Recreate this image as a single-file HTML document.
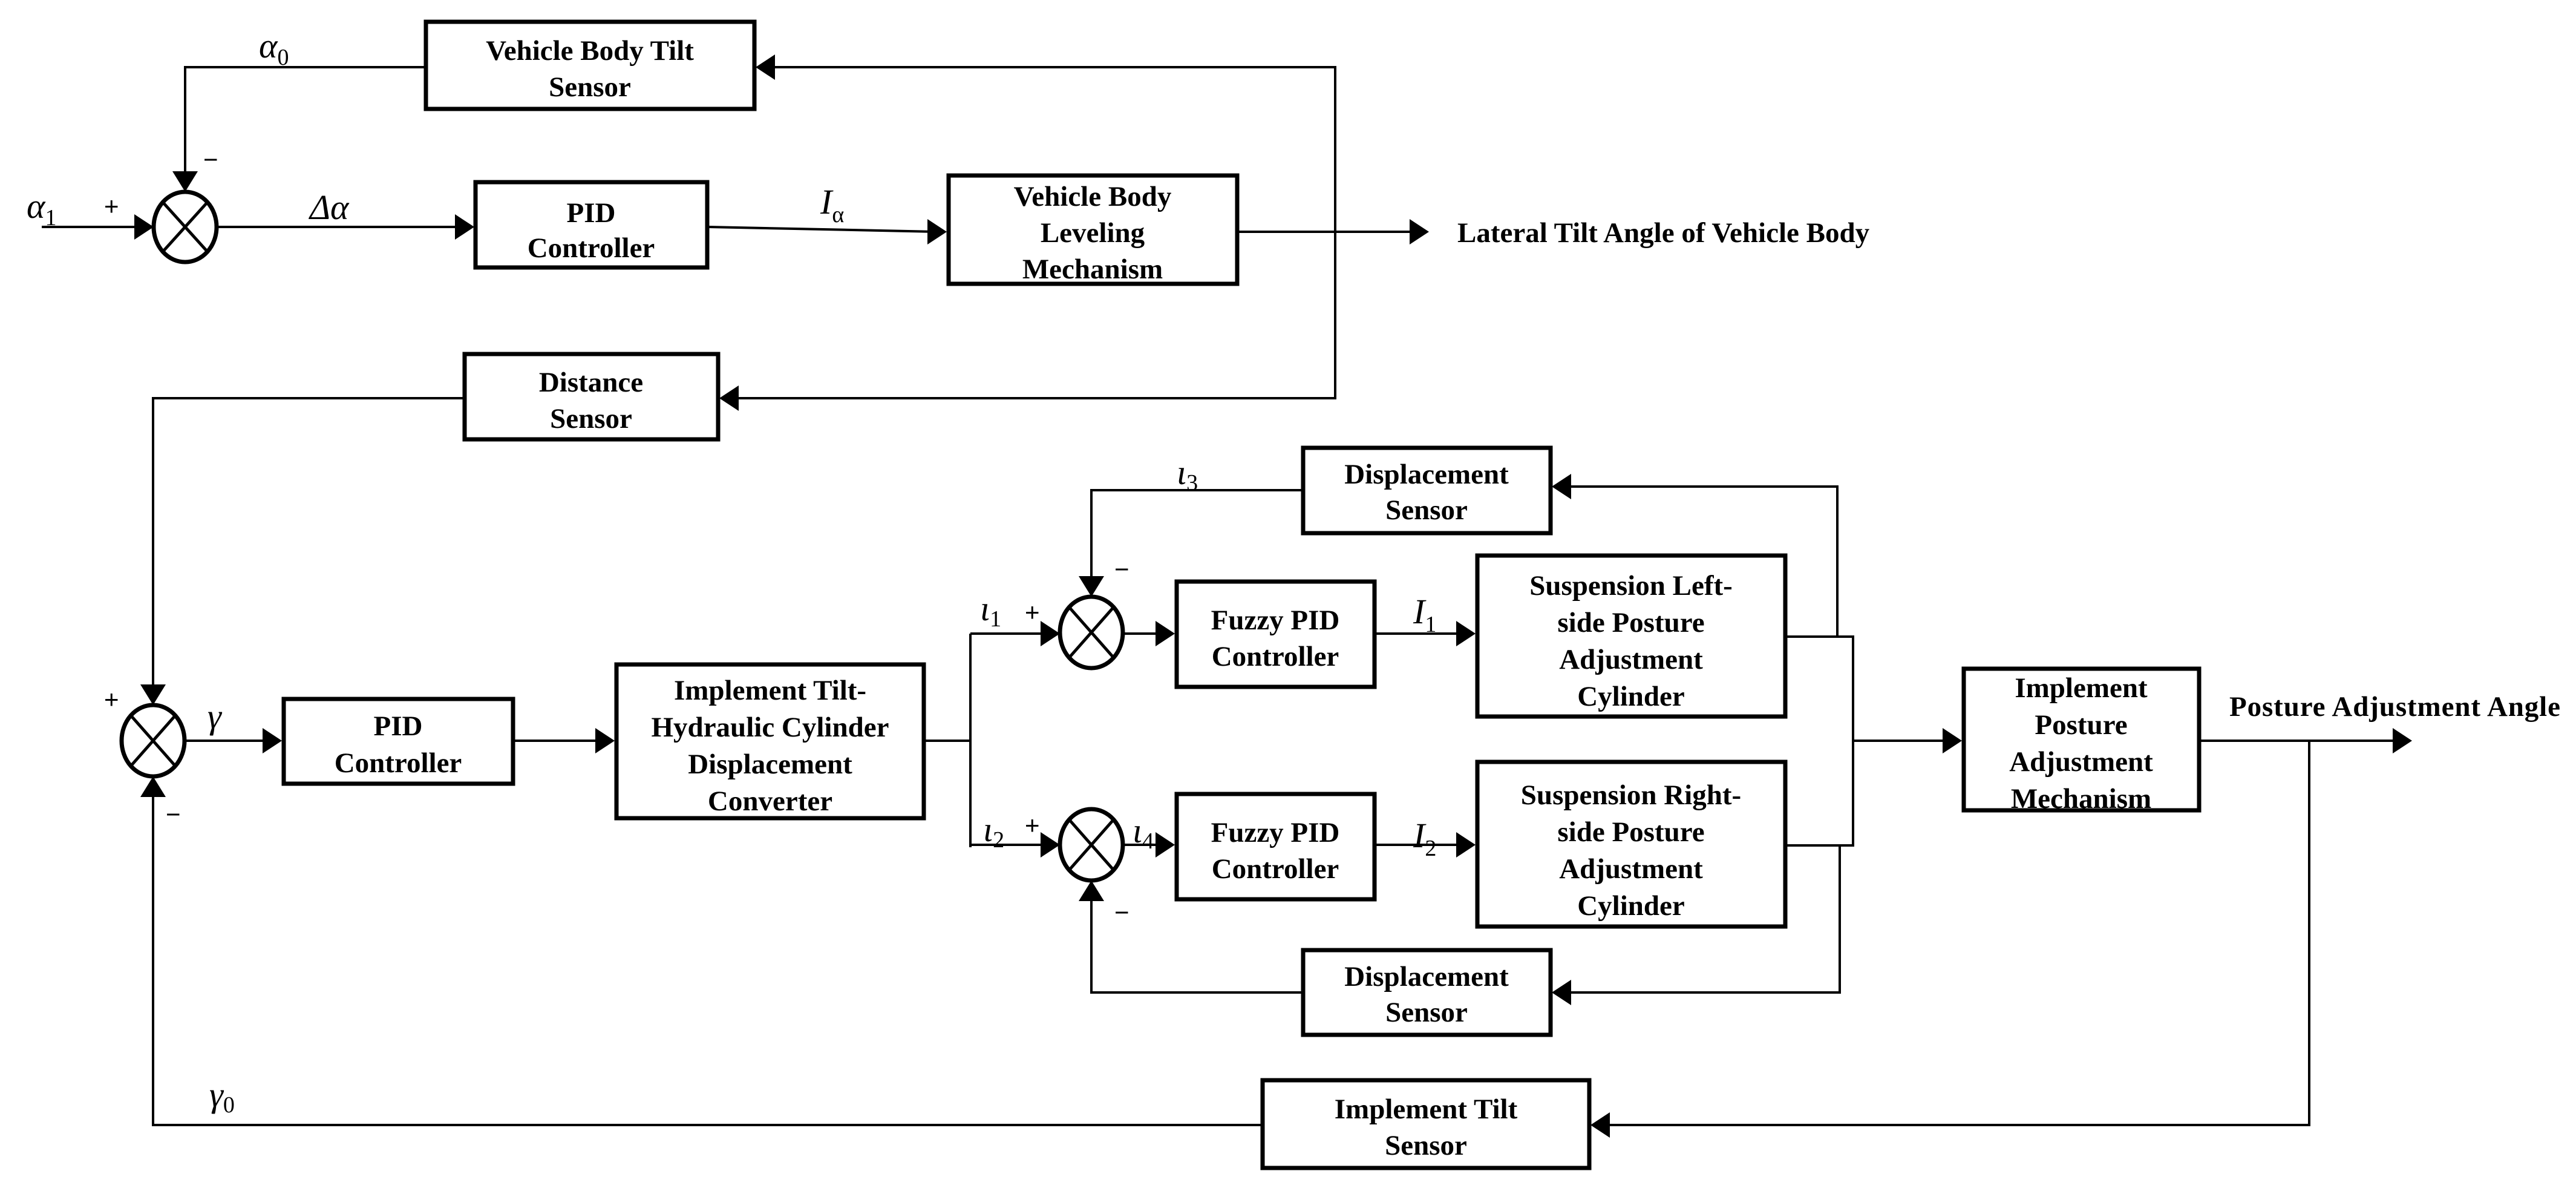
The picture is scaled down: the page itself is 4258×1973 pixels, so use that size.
<!DOCTYPE html>
<html><head><meta charset="utf-8"><style>
html,body{margin:0;padding:0;background:#fff;}
svg{display:block;}
.t{font-family:"Liberation Serif",serif;font-weight:bold;font-size:47px;text-anchor:middle;fill:#000;}
.m{font-family:"Liberation Serif",serif;font-style:italic;font-size:58px;fill:#000;}
.s{font-family:"Liberation Serif",serif;font-style:normal;font-size:38px;fill:#000;}
.p{font-family:"Liberation Sans",sans-serif;font-size:42px;fill:#000;}
</style></head><body>
<svg width="4258" height="1973" viewBox="0 0 4258 1973" xmlns="http://www.w3.org/2000/svg">
<g fill="none" stroke="#000" stroke-width="4">
<polyline points="69,375 254,375"/>
<polyline points="701,111 306,111 306,300"/>
<polyline points="358,375 770,375"/>
<polyline points="1171,375 1550,383"/>
<polyline points="2047,383 2340,383"/>
<polyline points="1265,111 2207,111 2207,658 1205,658"/>
<polyline points="765,658 253,658 253,1150"/>
<polyline points="306,1224 452,1224"/>
<polyline points="850,1224 1002,1224"/>
<polyline points="1529,1224 1604,1224"/>
<polyline points="1604,1047 1604,1400"/>
<polyline points="1604,1047 1740,1047"/>
<polyline points="1604,1396 1740,1396"/>
<polyline points="1856,1047 1928,1047"/>
<polyline points="1856,1396 1928,1396"/>
<polyline points="2151,810 1804,810 1804,970"/>
<polyline points="2151,1640 1804,1640 1804,1472"/>
<polyline points="2274,1047 2425,1047"/>
<polyline points="2274,1396 2425,1396"/>
<polyline points="2953,1052 3063,1052 3063,1397 2953,1397"/>
<polyline points="3037,1052 3037,804 2580,804"/>
<polyline points="3041,1397 3041,1640 2580,1640"/>
<polyline points="3063,1224 3228,1224"/>
<polyline points="3637,1224 3970,1224"/>
<polyline points="3817,1224 3817,1859 2645,1859"/>
<polyline points="2084,1859 253,1859 253,1298"/>
</g>
<g fill="#000">
<polygon points="254,375 222,354 222,396"/>
<polygon points="306,317 285,283 327,283"/>
<polygon points="784,375 752,354 752,396"/>
<polygon points="1565,383 1533,362 1533,404"/>
<polygon points="2362,383 2330,362 2330,404"/>
<polygon points="1249,111 1281,90 1281,132"/>
<polygon points="1189,658 1221,637 1221,679"/>
<polygon points="253,1165 232,1131 274,1131"/>
<polygon points="466,1224 434,1203 434,1245"/>
<polygon points="1016,1224 984,1203 984,1245"/>
<polygon points="1752,1047 1720,1026 1720,1068"/>
<polygon points="1752,1396 1720,1375 1720,1417"/>
<polygon points="1942,1047 1910,1026 1910,1068"/>
<polygon points="1942,1396 1910,1375 1910,1417"/>
<polygon points="1804,986 1783,952 1825,952"/>
<polygon points="1804,1455 1783,1489 1825,1489"/>
<polygon points="2439,1047 2407,1026 2407,1068"/>
<polygon points="2439,1396 2407,1375 2407,1417"/>
<polygon points="2565,804 2597,783 2597,825"/>
<polygon points="2565,1640 2597,1619 2597,1661"/>
<polygon points="3243,1224 3211,1203 3211,1245"/>
<polygon points="3987,1224 3955,1203 3955,1245"/>
<polygon points="2629,1859 2661,1838 2661,1880"/>
<polygon points="253,1283 232,1317 274,1317"/>
</g>
<g fill="#fff" stroke="#000" stroke-width="7">
<ellipse cx="306" cy="375" rx="52" ry="58"/>
<ellipse cx="253" cy="1224" rx="52" ry="59"/>
<ellipse cx="1804" cy="1045" rx="52" ry="59"/>
<ellipse cx="1804" cy="1396" rx="52" ry="59"/>
</g>
<g stroke="#000" stroke-width="5">
<line x1="269" y1="334" x2="343" y2="416"/><line x1="343" y1="334" x2="269" y2="416"/>
<line x1="216" y1="1182" x2="290" y2="1266"/><line x1="290" y1="1182" x2="216" y2="1266"/>
<line x1="1767" y1="1003" x2="1841" y2="1087"/><line x1="1841" y1="1003" x2="1767" y2="1087"/>
<line x1="1767" y1="1354" x2="1841" y2="1438"/><line x1="1841" y1="1354" x2="1767" y2="1438"/>
</g>
<g fill="#fff" stroke="#000" stroke-width="7">
<rect x="704" y="36" width="543" height="144"/>
<rect x="786" y="301" width="383" height="141"/>
<rect x="1568" y="290" width="477" height="179"/>
<rect x="768" y="585" width="419" height="141"/>
<rect x="469" y="1155" width="379" height="140"/>
<rect x="1019" y="1098" width="508" height="254"/>
<rect x="2154" y="740" width="409" height="141"/>
<rect x="1945" y="961" width="327" height="174"/>
<rect x="1945" y="1312" width="327" height="174"/>
<rect x="2442" y="918" width="509" height="266"/>
<rect x="2442" y="1259" width="509" height="272"/>
<rect x="2154" y="1570" width="409" height="140"/>
<rect x="3246" y="1105" width="389" height="234"/>
<rect x="2087" y="1785" width="540" height="145"/>
</g>
<text class="t" x="975" y="99">Vehicle Body  Tilt</text>
<text class="t" x="975" y="159">Sensor</text>
<text class="t" x="977" y="367">PID</text>
<text class="t" x="977" y="425">Controller</text>
<text class="t" x="1806" y="340">Vehicle Body</text>
<text class="t" x="1806" y="400">Leveling</text>
<text class="t" x="1806" y="460">Mechanism</text>
<text class="t" x="977" y="647">Distance</text>
<text class="t" x="977" y="707">Sensor</text>
<text class="t" x="658" y="1215">PID</text>
<text class="t" x="658" y="1276">Controller</text>
<text class="t" x="1273" y="1156">Implement  Tilt-</text>
<text class="t" x="1273" y="1217">Hydraulic  Cylinder</text>
<text class="t" x="1273" y="1278">Displacement</text>
<text class="t" x="1273" y="1339">Converter</text>
<text class="t" x="2358" y="799">Displacement</text>
<text class="t" x="2358" y="858">Sensor</text>
<text class="t" x="2108" y="1040">Fuzzy PID</text>
<text class="t" x="2108" y="1100">Controller</text>
<text class="t" x="2108" y="1391">Fuzzy PID</text>
<text class="t" x="2108" y="1451">Controller</text>
<text class="t" x="2696" y="983">Suspension Left-</text>
<text class="t" x="2696" y="1044">side Posture</text>
<text class="t" x="2696" y="1105">Adjustment</text>
<text class="t" x="2696" y="1166">Cylinder</text>
<text class="t" x="2696" y="1329">Suspension Right-</text>
<text class="t" x="2696" y="1390">side Posture</text>
<text class="t" x="2696" y="1451">Adjustment</text>
<text class="t" x="2696" y="1512">Cylinder</text>
<text class="t" x="2358" y="1629">Displacement</text>
<text class="t" x="2358" y="1688">Sensor</text>
<text class="t" x="3440" y="1152">Implement</text>
<text class="t" x="3440" y="1213">Posture</text>
<text class="t" x="3440" y="1274">Adjustment</text>
<text class="t" x="3440" y="1335">Mechanism</text>
<text class="t" x="2357" y="1848">Implement  Tilt</text>
<text class="t" x="2357" y="1908">Sensor</text>
<text class="t" x="2409" y="400" style="text-anchor:start">Lateral  Tilt  Angle  of  Vehicle  Body</text>
<text class="t" x="3685" y="1183" style="text-anchor:start" textLength="547">Posture  Adjustment  Angle</text>
<text class="m" x="428" y="95">α<tspan class="s" dy="12">0</tspan></text>
<text class="m" x="44" y="360">α<tspan class="s" dy="12">1</tspan></text>
<text class="p" x="172" y="355">+</text>
<text class="p" x="336" y="278">−</text>
<text class="m" x="512" y="362">Δα</text>
<text class="m" x="1356" y="353">I<tspan class="s" dy="14">α</tspan></text>
<text class="p" x="172" y="1170">+</text>
<text class="m" x="343" y="1203">γ</text>
<text class="p" x="274" y="1360">−</text>
<text class="m" x="346" y="1828">γ<tspan class="s" dy="10">0</tspan></text>
<text class="m" x="1945" y="800">ι<tspan class="s" dy="10">3</tspan></text>
<text class="p" x="1842" y="955">−</text>
<text class="m" x="1620" y="1025">ι<tspan class="s" dy="10">1</tspan></text>
<text class="p" x="1694" y="1026">+</text>
<text class="m" x="1625" y="1390">ι<tspan class="s" dy="10">2</tspan></text>
<text class="p" x="1694" y="1378">+</text>
<text class="m" x="1872" y="1392">ι<tspan class="s" dy="10">4</tspan></text>
<text class="p" x="1842" y="1522">−</text>
<text class="m" x="2336" y="1030">I<tspan class="s" dy="14">1</tspan></text>
<text class="m" x="2336" y="1400">I<tspan class="s" dy="14">2</tspan></text>
</svg>
</body></html>
